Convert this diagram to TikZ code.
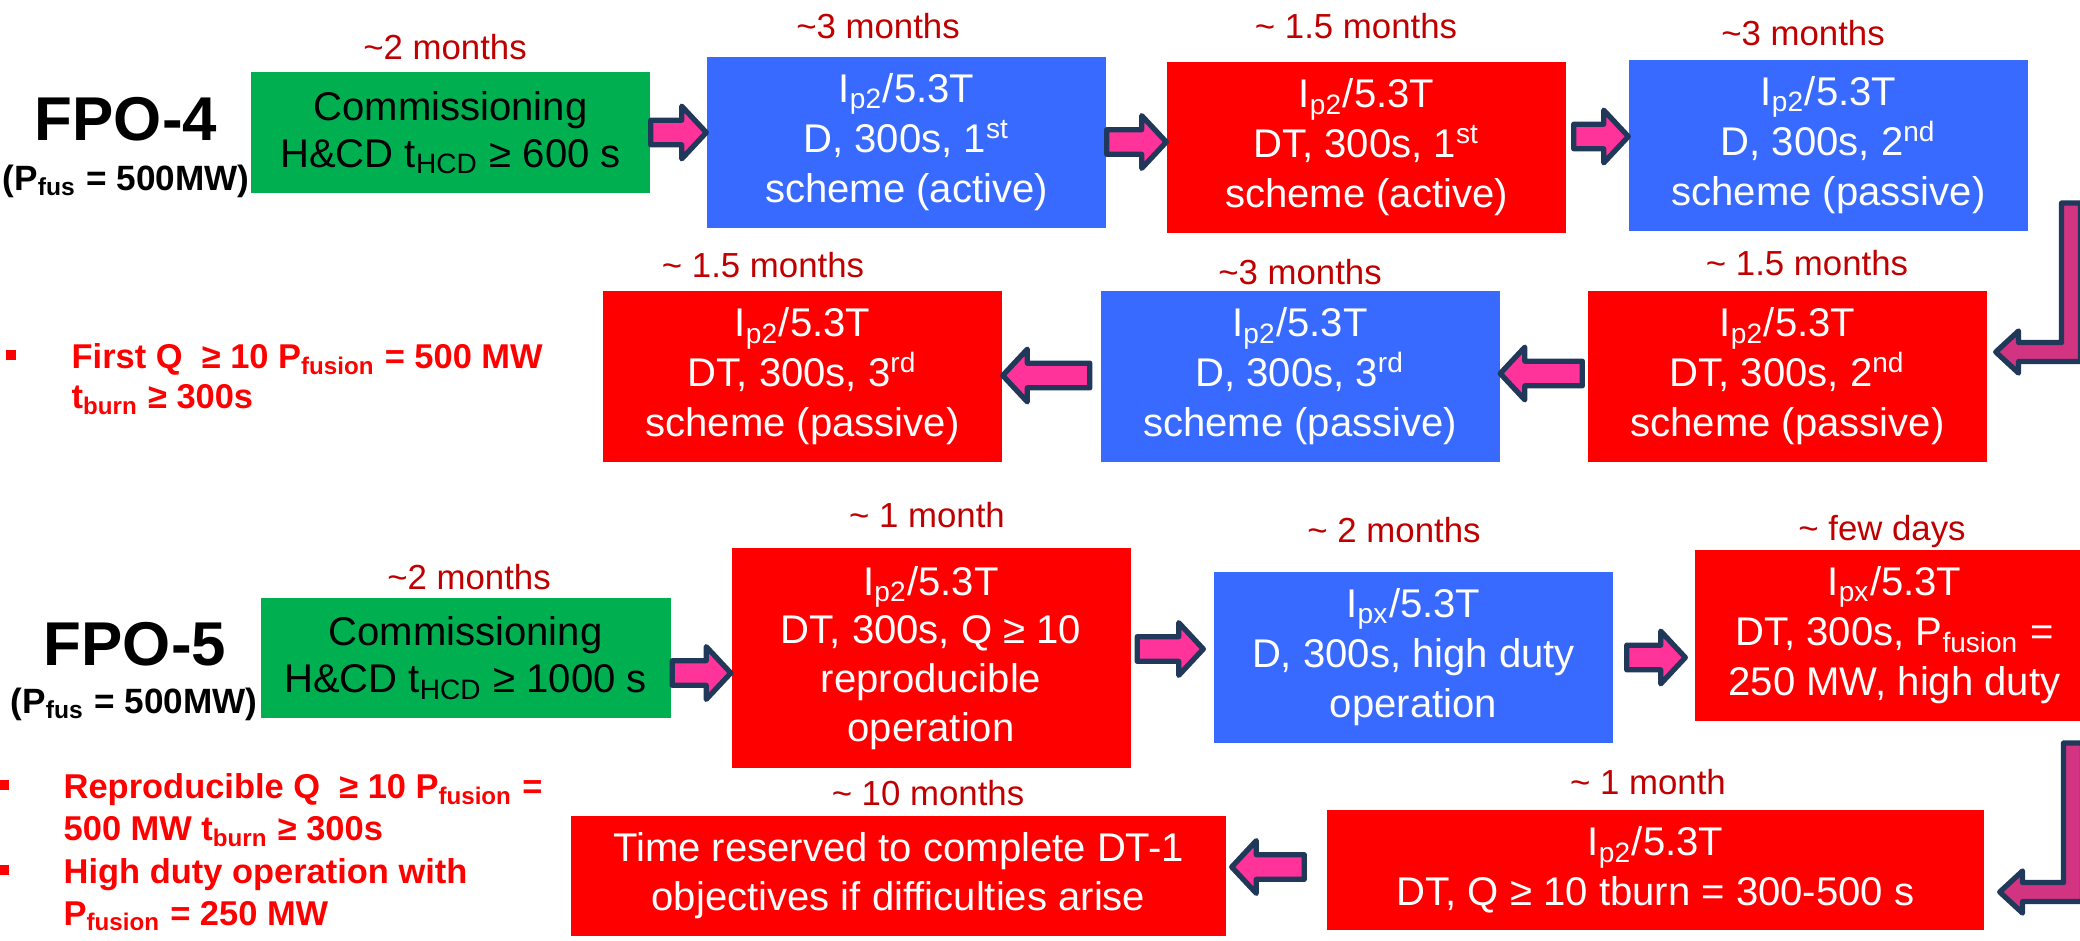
\documentclass[tikz,border=0pt]{standalone}
\usepackage{fontspec}
\setmainfont{Liberation Sans}
\usetikzlibrary{calc}

\definecolor{fpored}{RGB}{255,0,0}
\definecolor{fpoblue}{RGB}{56,106,255}
\definecolor{fpogreen}{RGB}{0,176,80}
\definecolor{durred}{RGB}{192,0,0}
\definecolor{arrpink}{RGB}{255,51,153}
\definecolor{bendpink}{RGB}{210,52,130}
\definecolor{arrnavy}{RGB}{32,56,90}

\newcommand{\boxfont}{\fontsize{11.4}{14.2}\selectfont}
\newcommand{\durfont}{\fontsize{9.9}{12}\selectfont}
\newcommand{\abt}{\textasciitilde}

\tikzset{
  stage/.style={rectangle, inner sep=0pt, align=center, text=white,
    font=\boxfont, minimum width=39.9mm, minimum height=17.1mm},
  redbox/.style={stage, fill=fpored},
  bluebox/.style={stage, fill=fpoblue},
  comm/.style={stage, fill=fpogreen, text=black, minimum height=12.1mm,
    font=\fontsize{11.4}{13.4}\selectfont},
  dur/.style={anchor=base, inner sep=0pt, text=durred, font=\durfont},
  fpolabel/.style={anchor=base, inner sep=0pt, font=\bfseries\fontsize{17.6}{20}\selectfont},
  pfus/.style={anchor=base, inner sep=0pt, font=\bfseries\fontsize{10}{12}\selectfont},
  goal/.style={anchor=north west, inner sep=0pt, align=left, text=fpored,
    font=\bfseries\fontsize{9.8}{11.4}\selectfont},
  % straight block arrow, head at the target, kept at the start's height
  fatarrow/.style={draw=arrnavy, fill=arrpink, line width=1.5pt, line join=round,
    to path={let \p1=(\tikztostart), \p2=(\tikztotarget),
      \n1={((\x2>\x1)*2-1)*7} in
      (\x1,\y1-3.5pt) -- (\x2-\n1,\y1-3.5pt) -- (\x2-\n1,\y1-7.5pt) -- (\x2,\y1)
      -- (\x2-\n1,\y1+7.5pt) -- (\x2-\n1,\y1+3.5pt) -- (\x1,\y1+3.5pt) -- cycle}},
  % down, then left into the next row
  bendarrow/.style={draw=arrnavy, fill=bendpink, line width=1.5pt, line join=round,
    to path={let \p1=(\tikztostart), \p2=(\tikztotarget) in
      (\x1-2.7pt,\y1) -- (\x1-2.7pt,\y2+2.7pt) -- (\x2+6.5pt,\y2+2.7pt)
      -- (\x2+6.5pt,\y2+6pt) -- (\x2,\y2) -- (\x2+6.5pt,\y2-6pt)
      -- (\x2+6.5pt,\y2-2.7pt) -- (\x1+2.7pt,\y2-2.7pt) -- (\x1+2.7pt,\y1) -- cycle}},
}

\begin{document}
\begin{tikzpicture}[x=0.1mm,y=-0.1mm]
  \useasboundingbox (0,0) rectangle (2080,940);
  \clip (0,0) rectangle (2080,940);

  % FPO-4
  \node[fpolabel] (fpo4) at (126,140) {FPO-4};
  \node[pfus] (pfus4) at (126,190) {(P\textsubscript{fus} = 500MW)};

  \node[comm] (g4) at (450.5,132.5) {Commissioning\\H\&CD t\textsubscript{HCD} ≥ 600 s};
  \node[bluebox] (b1) at (906.5,142) {I\textsubscript{p2}/5.3T\\D, 300s, 1\textsuperscript{st}\\scheme (active)};
  \node[redbox] (r1) at (1366.5,147.5) {I\textsubscript{p2}/5.3T\\DT, 300s, 1\textsuperscript{st}\\scheme (active)};
  \node[bluebox] (b2) at (1828.5,145) {I\textsubscript{p2}/5.3T\\D, 300s, 2\textsuperscript{nd}\\scheme (passive)};

  \node[redbox] (r2) at (1787.5,376.5) {I\textsubscript{p2}/5.3T\\DT, 300s, 2\textsuperscript{nd}\\scheme (passive)};
  \node[bluebox] (b3) at (1300,376.5) {I\textsubscript{p2}/5.3T\\D, 300s, 3\textsuperscript{rd}\\scheme (passive)};
  \node[redbox] (r3) at (802.5,376.5) {I\textsubscript{p2}/5.3T\\DT, 300s, 3\textsuperscript{rd}\\scheme (passive)};

  \fill[fpored] (6,350) rectangle (16,360);
  \node[goal] (goal4) at (71,343) {First Q~ ≥ 10 P\textsubscript{fusion} = 500 MW\\t\textsubscript{burn} ≥ 300s};

  % FPO-5
  \node[fpolabel] (fpo5) at (135,665) {FPO-5};
  \node[pfus] (pfus5) at (134,713) {(P\textsubscript{fus} = 500MW)};

  \node[comm, minimum width=41mm, minimum height=12mm] (g5) at (465.5,658) {Commissioning\\H\&CD t\textsubscript{HCD} ≥ 1000 s};
  \node[redbox, minimum height=22mm, font=\fontsize{11.4}{13.9}\selectfont] (r4) at (931,658) {I\textsubscript{p2}/5.3T\\DT, 300s, Q ≥ 10\\reproducible\\operation};
  \node[bluebox] (b4) at (1413.5,657.5) {I\textsubscript{px}/5.3T\\D, 300s, high duty\\operation};
  \node[redbox] (r5) at (1894.5,635.5) {I\textsubscript{px}/5.3T\\DT, 300s, P\textsubscript{fusion} =\\250 MW, high duty};

  \node[redbox, minimum width=65.7mm, minimum height=12mm] (r6) at (1655.5,870) {I\textsubscript{p2}/5.3T\\DT, Q ≥ 10 tburn = 300-500 s};
  \node[redbox, minimum width=65.5mm, minimum height=12mm, font=\fontsize{11.4}{13.9}\selectfont] (r7) at (898.5,876) {Time reserved to complete DT-1\\objectives if difficulties arise};

  \fill[fpored] (0,780) rectangle (9,790);
  \fill[fpored] (0,865) rectangle (9,875);
  \node[goal, font=\bfseries\fontsize{9.8}{12}\selectfont] (goal5) at (63,773)
    {Reproducible Q~ ≥ 10 P\textsubscript{fusion} =\\500 MW t\textsubscript{burn} ≥ 300s\\High duty operation with\\P\textsubscript{fusion} = 250 MW};

  % durations
  \foreach \px/\py/\txt [count=\i] in {
      445/59/\abt2 months, 878/39/\abt3 months, 1356/39/\abt{} 1.5 months, 1803/45/\abt3 months,
      763/277/\abt{} 1.5 months, 1300/284/\abt3 months, 1807/275/\abt{} 1.5 months,
      469/589/\abt2 months, 927/527/\abt{} 1 month, 1394/542/\abt{} 2 months, 1882/540/\abt{} few days,
      928/805/\abt{} 10 months, 1648/794/\abt{} 1 month}
    \node[dur] (dur\i) at (\px,\py) {\txt};

  % arrows
  \coordinate (bend4) at (2071,203);
  \coordinate (bend5) at (2073,743);

  \draw[fatarrow] (g4.east) to (b1.west);
  \draw[fatarrow] (b1.east) to (r1.west);
  \draw[fatarrow] ($(r1.east)+(7,-11)$) to (b2.west);
  \draw[bendarrow] (bend4) to ($(r2.east)+(8,-24.5)$);
  \draw[fatarrow] ($(r2.west)+(-5,-3)$) to (b3.east);
  \draw[fatarrow] ($(b3.west)+(-10,-1)$) to (r3.east);

  \draw[fatarrow] ($(g5.east)+(1,15)$) to (r4.west);
  \draw[fatarrow] ($(r4.east)+(6,-9)$) to ($(b4.west)+(-10,0)$);
  \draw[fatarrow] ($(b4.east)+(13,0)$) to ($(r5.west)+(-9,0)$);
  \draw[bendarrow] (bend5) to ($(r6.east)+(15,22)$);
  \draw[fatarrow] ($(r6.west)+(-22,-3)$) to ($(r7.east)+(5,0)$);
\end{tikzpicture}
\end{document}
